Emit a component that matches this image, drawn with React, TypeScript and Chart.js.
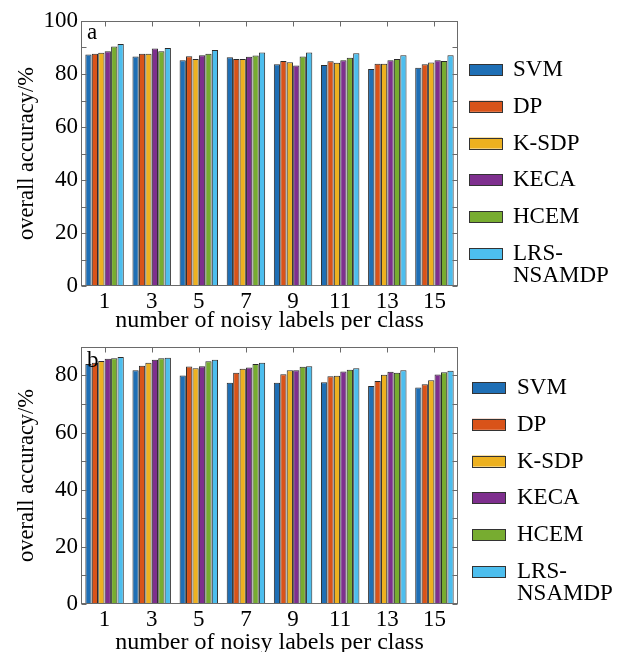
import React, { useEffect, useRef } from "react";
import { Chart, registerables } from "chart.js";

Chart.register(...registerables);

const categories = ["1", "3", "5", "7", "9", "11", "13", "15"];
const seriesNames = ["SVM", "DP", "K-SDP", "KECA", "HCEM", "LRS-NSAMDP"];
const seriesColors = ["#1f6fb5", "#d95319", "#edb120", "#7e2f8e", "#77ac30", "#4dbeee"];

// panel a
const svmA = [87.4, 86.6, 85.2, 86.3, 83.7, 83.4, 81.9, 82.4];
const dpA = [87.6, 87.6, 86.7, 85.7, 84.9, 84.8, 83.9, 83.7];
const ksdpA = [88.0, 87.6, 85.7, 85.7, 84.4, 84.2, 83.9, 84.3];
const kecaA = [88.6, 89.6, 87.1, 86.5, 83.2, 85.2, 85.2, 85.2];
const hcemA = [90.4, 88.6, 87.6, 87.0, 86.6, 86.1, 85.7, 84.9];
const lrsA = [91.3, 89.8, 89.1, 88.1, 88.1, 87.8, 87.1, 87.1];

// panel b
const svmB = [84.0, 81.8, 80.0, 77.4, 77.4, 77.6, 76.3, 75.8];
const dpB = [84.4, 83.4, 83.1, 80.9, 80.4, 79.7, 78.0, 76.9];
const ksdpB = [85.0, 84.4, 82.5, 82.3, 81.8, 79.9, 80.2, 78.3];
const kecaB = [85.8, 85.5, 83.2, 82.8, 81.8, 81.4, 81.3, 80.3];
const hcemB = [86.0, 86.0, 84.9, 84.0, 83.0, 82.0, 80.9, 81.1];
const lrsB = [86.4, 86.2, 85.5, 84.4, 83.2, 82.5, 81.8, 81.6];

const yTicksStep = 10;
const yLabelStep = 20;

const FONT = '"Liberation Serif", "Times New Roman", serif';

const framePlugin = {
  id: "frame",
  afterDatasetsDraw(chart: any, _args: any, opts: any) {
    const { ctx, chartArea: a, scales } = chart;
    const L = Math.round(a.left) + 0.5;
    const R = Math.round(a.right) - 0.5;
    const T = Math.round(a.top) + 0.5;
    const B = Math.round(a.bottom) - 0.5;
    ctx.save();
    ctx.strokeStyle = "#6a6a6a";
    ctx.lineWidth = 1;
    ctx.strokeRect(L, T, R - L, B - T);
    ctx.beginPath();
    const ys = scales.y;
    for (let v = ys.min; v <= ys.max; v += yTicksStep) {
      const py = Math.round(ys.getPixelForValue(v)) + 0.5;
      ctx.moveTo(L, py);
      ctx.lineTo(L + 5, py);
      ctx.moveTo(R, py);
      ctx.lineTo(R - 5, py);
    }
    const xs = scales.x;
    for (let i = 0; i < categories.length; i++) {
      const px = Math.round(xs.getPixelForValue(i)) + 0.5;
      ctx.moveTo(px, T);
      ctx.lineTo(px, T + 5);
    }
    ctx.stroke();
    ctx.fillStyle = "#000";
    ctx.font = `23px ${FONT}`;
    ctx.textBaseline = "alphabetic";
    ctx.textAlign = "left";
    ctx.fillText(opts.letter, a.left + 6, a.top + opts.letterDy);
    ctx.restore();
  },
};

const legendPlugin = {
  id: "sideLegend",
  afterDraw(chart: any, _args: any, opts: any) {
    const { ctx } = chart;
    ctx.save();
    ctx.font = `23px ${FONT}`;
    ctx.textBaseline = "middle";
    ctx.textAlign = "left";
    chart.data.datasets.forEach((ds: any, i: number) => {
      const cy = opts.y0 + i * opts.step;
      ctx.fillStyle = ds.backgroundColor;
      ctx.fillRect(opts.boxX, cy - 5, 33, 11);
      ctx.strokeStyle = "#333";
      ctx.lineWidth = 1;
      ctx.strokeRect(opts.boxX + 0.5, Math.round(cy - 5) + 0.5, 33, 11);
      ctx.fillStyle = "#000";
      const label: string = ds.label;
      const idx = label.indexOf("-");
      const lines = label.length > 8 && idx > 0 ? [label.slice(0, idx + 1), label.slice(idx + 1)] : [label];
      lines.forEach((ln, k) => ctx.fillText(ln, opts.textX, cy + 1 + k * 22));
    });
    ctx.restore();
  },
};

type PanelProps = {
  values: number[][];
  yMax: number;
  letter: string;
  letterDy: number;
  height: number;
  top: number;
  padTop: number;
  xAxisHeight: number;
  xTitlePad: number;
  legend: { boxX: number; textX: number; y0: number; step: number };
};

function BarPanel(p: PanelProps) {
  const ref = useRef<HTMLCanvasElement | null>(null);
  useEffect(() => {
    if (!ref.current) return;
    const chart = new Chart(ref.current, {
      type: "bar",
      data: {
        labels: categories,
        datasets: seriesNames.map((name, i) => ({
          label: name,
          data: p.values[i],
          backgroundColor: seriesColors[i],
          borderColor: "#2a2a2a",
          borderWidth: 1,
          categoryPercentage: 0.82,
          barPercentage: 0.97,
        })),
      },
      options: {
        animation: false,
        responsive: false,
        maintainAspectRatio: false,
        devicePixelRatio: 1,
        layout: { padding: { top: p.padTop, right: 167, left: 0, bottom: 0 } },
        plugins: {
          legend: { display: false },
          tooltip: { enabled: false },
          frame: { letter: p.letter, letterDy: p.letterDy },
          sideLegend: p.legend,
        } as any,
        scales: {
          x: {
            grid: { display: false, drawTicks: false },
            border: { display: false },
            ticks: {
              color: "#000",
              font: { family: FONT, size: 23 },
              padding: 2,
              maxRotation: 0,
              autoSkip: false,
            },
            title: {
              display: true,
              text: "number of noisy labels per class",
              color: "#000",
              font: { family: FONT, size: 24 },
              padding: { top: 0, bottom: p.xTitlePad },
            },
            afterFit(s: any) {
              s.height = p.xAxisHeight;
            },
          },
          y: {
            min: 0,
            max: p.yMax,
            grid: { display: false, drawTicks: false },
            border: { display: false },
            ticks: {
              stepSize: yTicksStep,
              autoSkip: false,
              color: "#000",
              font: { family: FONT, size: 23 },
              padding: 3,
              callback: (v: any) => (Number(v) % yLabelStep === 0 ? String(v) : ""),
            },
            title: {
              display: true,
              text: "overall accuracy/%",
              color: "#000",
              font: { family: FONT, size: 22.5 },
              padding: { top: 14, bottom: 0 },
            },
            afterFit(s: any) {
              s.width = 81;
            },
          },
        },
      },
      plugins: [framePlugin, legendPlugin],
    });
    return () => chart.destroy();
  }, []);
  return (
    <canvas
      ref={ref}
      width={625}
      height={p.height}
      style={{ position: "absolute", left: 0, top: p.top, width: 625, height: p.height, display: "block" }}
    />
  );
}

export default function App() {
  return (
    <div style={{ position: "absolute", left: 0, top: 0, width: 625, height: 652, background: "#fff", overflow: "hidden" }}>
      <BarPanel
        values={[svmA, dpA, ksdpA, kecaA, hcemA, lrsA]}
        yMax={100}
        letter="a"
        letterDy={18}
        height={330}
        top={0}
        padTop={21}
        xAxisHeight={44}
        xTitlePad={-5}
        legend={{ boxX: 469, textX: 513, y0: 69, step: 36.8 }}
      />
      <BarPanel
        values={[svmB, dpB, ksdpB, kecaB, hcemB, lrsB]}
        yMax={90}
        letter="b"
        letterDy={20}
        height={322}
        top={330}
        padTop={9}
        xAxisHeight={48}
        xTitlePad={-5}
        legend={{ boxX: 472, textX: 517, y0: 57, step: 36.8 }}
      />
    </div>
  );
}
